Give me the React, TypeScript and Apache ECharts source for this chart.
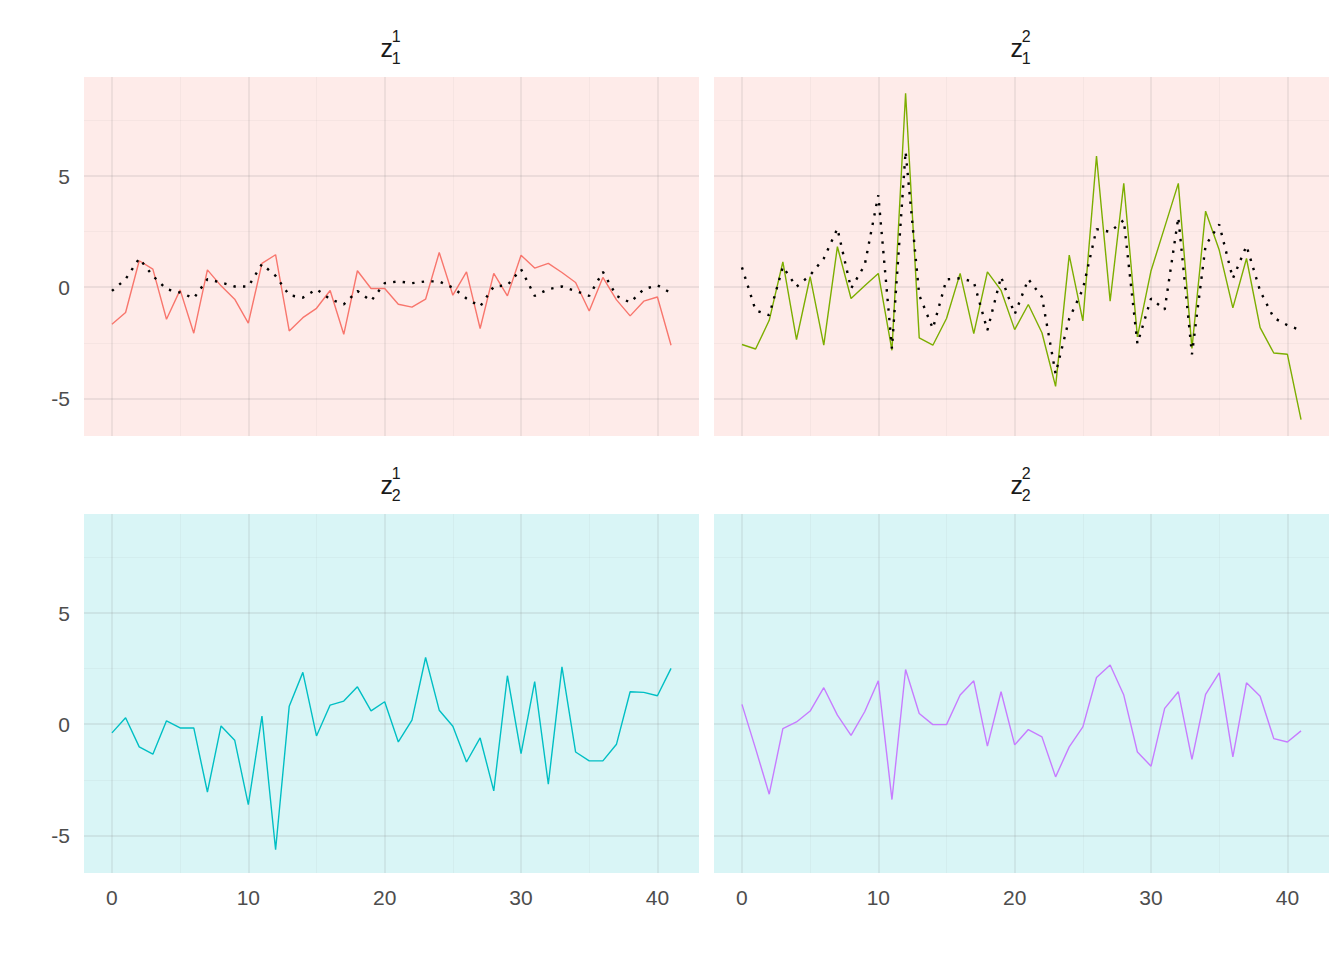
import React, { useEffect, useRef } from "react";
import * as echarts from "echarts";

// time steps 0..41
const timeSteps = [0, 1, 2, 3, 4, 5, 6, 7, 8, 9, 10, 11, 12, 13, 14, 15, 16, 17, 18, 19, 20,
  21, 22, 23, 24, 25, 26, 27, 28, 29, 30, 31, 32, 33, 34, 35, 36, 37, 38, 39, 40, 41];

// z_1^1 (red) and its dotted companion
const z11 = [-1.67, -1.14, 1.19, 0.81, -1.44, -0.12, -2.07, 0.78, 0.06, -0.54, -1.62, 1.07, 1.46, -1.97,
  -1.37, -0.95, -0.15, -2.12, 0.74, -0.06, -0.06, -0.77, -0.9, -0.54, 1.56, -0.36, 0.69, -1.86, 0.62,
  -0.39, 1.44, 0.86, 1.07, 0.66, 0.21, -1.07, 0.44, -0.57, -1.29, -0.63, -0.44, -2.61];
const z11Dotted = [-0.17, 0.36, 1.29, 0.51, -0.09, -0.24, -0.5, 0.36, 0.21, 0.03, 0.03, 1.04, 0.51, -0.36,
  -0.47, -0.09, -0.54, -0.77, -0.17, -0.62, 0.18, 0.26, 0.18, 0.26, 0.26, -0.02, -0.51, -0.87, 0.03,
  0.09, 0.81, -0.39, -0.09, 0.03, -0.17, -0.39, 0.69, -0.39, -0.69, -0.09, 0.09, -0.27];

// z_1^2 (green) and its dotted companion
const z12 = [-2.58, -2.78, -1.49, 1.14, -2.36, 0.47, -2.61, 1.82, -0.51, 0.06, 0.62, -2.84, 8.72, -2.28,
  -2.61, -1.41, 0.62, -2.09, 0.69, -0.14, -1.91, -0.78, -2.05, -4.46, 1.44, -1.52, 5.9, -0.63, 4.67,
  -2.24, 0.74, 2.7, 4.67, -2.76, 3.42, 1.67, -0.93, 1.29, -1.82, -2.96, -3.02, -5.96];
const z12Dotted = [0.89, -1.04, -1.26, 0.92, 0.02, 0.54, 1.29, 2.64, -0.06, 0.99, 4.14, -2.76, 6.1, -0.36,
  -1.86, 0.35, 0.4, 0.24, -1.94, 0.47, -1.22, 0.36, -0.44, -3.89, -1.41, -0.09, 2.61, 2.49, 3.02,
  -2.54, -0.51, -1.01, 3.14, -3.02, 1.88, 2.82, 0.39, 1.86, -0.17, -1.38, -1.71, -1.94];

// z_2^1 (cyan)
const z21 = [-0.39, 0.29, -1.02, -1.35, 0.15, -0.17, -0.17, -3.05, -0.08, -0.72, -3.62, 0.36, -5.65, 0.81,
  2.33, -0.53, 0.86, 1.04, 1.68, 0.6, 1.01, -0.8, 0.18, 3.0, 0.63, -0.09, -1.7, -0.62, -3.0, 2.18,
  -1.32, 1.91, -2.7, 2.58, -1.25, -1.65, -1.65, -0.9, 1.46, 1.43, 1.28, 2.51];

// z_2^2 (purple)
const z22 = [0.89, -1.1, -3.15, -0.2, 0.1, 0.59, 1.64, 0.41, -0.5, 0.56, 1.95, -3.39, 2.46, 0.48, -0.02,
  -0.02, 1.31, 1.95, -0.99, 1.46, -0.93, -0.24, -0.57, -2.37, -1.02, -0.12, 2.1, 2.66, 1.31, -1.25,
  -1.89, 0.71, 1.46, -1.58, 1.34, 2.31, -1.47, 1.86, 1.26, -0.65, -0.8, -0.3];

const xMajorTicks = [0, 10, 20, 30, 40];
const xMinorTicks = [5, 15, 25, 35];
const yMajorTicks = [-5, 0, 5];
const yMinorTicks = [-2.5, 2.5, 7.5];

const panelTitles = [
  { sub: "1", sup: "1" },
  { sub: "1", sup: "2" },
  { sub: "2", sup: "1" },
  { sub: "2", sup: "2" },
];

const FONT = "'Liberation Sans', Arial, sans-serif";
const X_MIN = -2.05;
const X_MAX = 43.05;
const Y_MIN = -6.694;
const Y_MAX = 9.454;

const pairs = (ys: number[]) => timeSteps.map((t, i) => [t, ys[i]]);

export default function App() {
  const ref = useRef<HTMLDivElement>(null);

  useEffect(() => {
    if (!ref.current) return;
    const chart = echarts.init(ref.current, undefined, { renderer: "svg" });

    const panels = [
      { left: 84, top: 77, bg: "#FEEBE9", main: z11, dotted: z11Dotted, color: "#F8766D", showX: false, showY: true },
      { left: 714, top: 77, bg: "#FEEBE9", main: z12, dotted: z12Dotted, color: "#7CAE00", showX: false, showY: false },
      { left: 84, top: 514, bg: "#D9F5F6", main: z21, dotted: null, color: "#00BFC4", showX: true, showY: true },
      { left: 714, top: 514, bg: "#D9F5F6", main: z22, dotted: null, color: "#C77CFF", showX: true, showY: false },
    ];
    const W = 615;
    const H = 359;
    const majorLine = { color: "rgba(128,128,128,0.14)", width: 1.8 };
    const minorLine = { color: "rgba(128,128,128,0.08)", width: 0.9 };
    const labelStyle = { color: "#4D4D4D", fontSize: 21, fontFamily: FONT };

    const grid: any[] = [];
    const xAxis: any[] = [];
    const yAxis: any[] = [];
    const series: any[] = [];
    const graphic: any[] = [];

    panels.forEach((p, i) => {
      grid.push({
        left: p.left, top: p.top, width: W, height: H,
        show: true, backgroundColor: p.bg, borderWidth: 0, containLabel: false,
      });
      xAxis.push({
        type: "value", gridIndex: i, min: X_MIN, max: X_MAX, position: "bottom",
        axisLine: { show: false },
        axisTick: { show: false, customValues: xMajorTicks },
        axisLabel: { show: p.showX, customValues: xMajorTicks, margin: 14, ...labelStyle },
        splitLine: { show: true, lineStyle: majorLine },
      });
      xAxis.push({
        type: "value", gridIndex: i, min: X_MIN, max: X_MAX, position: "top",
        axisLine: { show: false },
        axisTick: { show: false, customValues: xMinorTicks },
        axisLabel: { show: false, customValues: xMinorTicks },
        splitLine: { show: true, lineStyle: minorLine },
      });
      yAxis.push({
        type: "value", gridIndex: i, min: Y_MIN, max: Y_MAX, position: "left",
        axisLine: { show: false },
        axisTick: { show: false, customValues: yMajorTicks },
        axisLabel: { show: p.showY, customValues: yMajorTicks, margin: 14, ...labelStyle },
        splitLine: { show: true, lineStyle: majorLine },
      });
      yAxis.push({
        type: "value", gridIndex: i, min: Y_MIN, max: Y_MAX, position: "right",
        axisLine: { show: false },
        axisTick: { show: false, customValues: yMinorTicks },
        axisLabel: { show: false, customValues: yMinorTicks },
        splitLine: { show: true, lineStyle: minorLine },
      });
      series.push({
        type: "line", xAxisIndex: 2 * i, yAxisIndex: 2 * i,
        data: pairs(p.main), showSymbol: false, symbol: "none", silent: true,
        lineStyle: { color: p.color, width: 1.4 }, z: 3,
      });
      if (p.dotted) {
        series.push({
          type: "line", xAxisIndex: 2 * i, yAxisIndex: 2 * i,
          data: pairs(p.dotted), showSymbol: false, symbol: "none", silent: true,
          lineStyle: { color: "#000000", width: 2.4, type: [2.4, 7.2], cap: "butt" }, z: 4,
        });
      }
      const cx = p.left + W / 2;
      const baseZ = p.top - 21;
      const t = panelTitles[i];
      graphic.push({
        type: "text", x: cx - 11, y: baseZ - 7.9,
        style: { text: "z", font: `25px ${FONT}`, fill: "#1A1A1A", align: "left", verticalAlign: "middle" },
      });
      graphic.push({
        type: "text", x: cx + 0.3, y: p.top - 35 - 5.1,
        style: { text: t.sup, font: `16px ${FONT}`, fill: "#1A1A1A", align: "left", verticalAlign: "middle" },
      });
      graphic.push({
        type: "text", x: cx + 0.3, y: p.top - 13 - 5.1,
        style: { text: t.sub, font: `16px ${FONT}`, fill: "#1A1A1A", align: "left", verticalAlign: "middle" },
      });
    });

    chart.setOption({
      animation: false,
      backgroundColor: "#FFFFFF",
      grid, xAxis, yAxis, series, graphic,
    });

    return () => chart.dispose();
  }, []);

  return (
    <div
      ref={ref}
      style={{ position: "absolute", left: 0, top: 0, width: 1344, height: 960 }}
    />
  );
}
